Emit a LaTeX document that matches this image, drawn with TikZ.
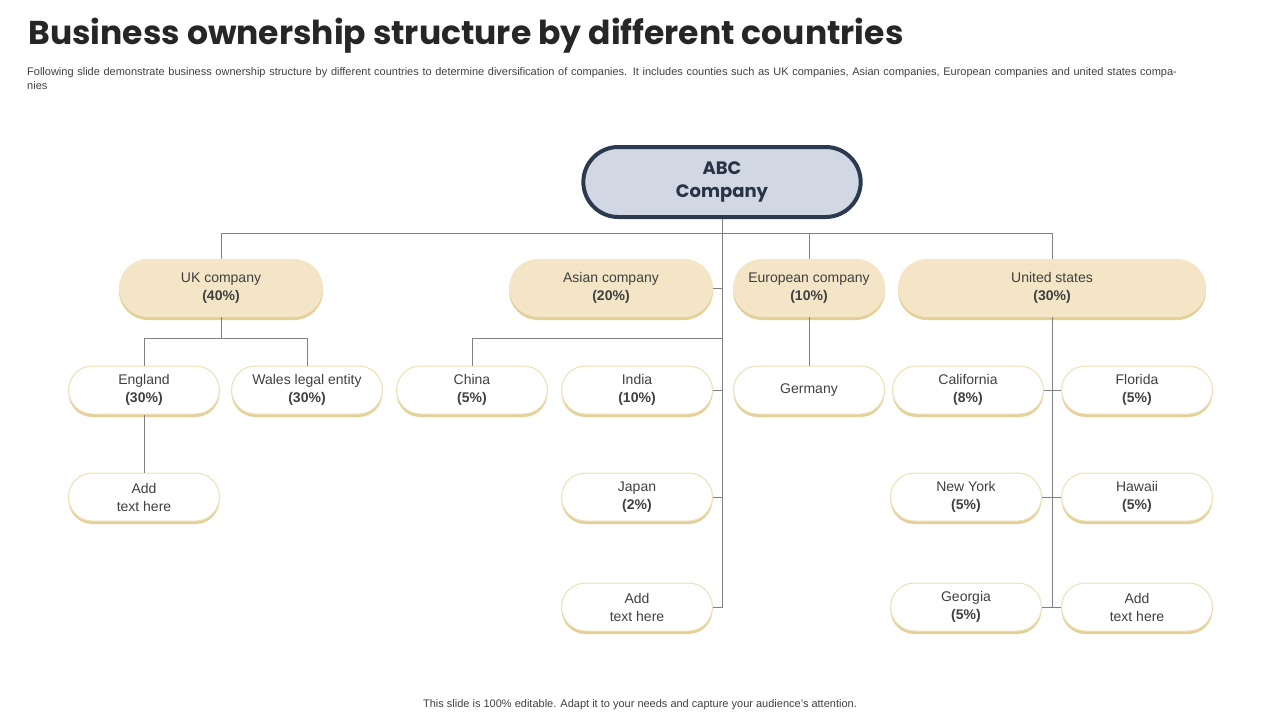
\documentclass[tikz,border=0pt]{standalone}
\usepackage{fontspec}
\setmainfont{Liberation Sans}
\newfontfamily\titlefont{Poppins}
\usetikzlibrary{shapes.misc,shadows}
\definecolor{topfill}{HTML}{D1D7E3}
\definecolor{topline}{HTML}{2B3A4F}
\definecolor{midfill}{HTML}{F3E5C5}
\definecolor{boxshade}{HTML}{E3CF98}
\definecolor{leafline}{HTML}{EEDFB5}
\definecolor{wire}{HTML}{808080}
\definecolor{txt}{HTML}{404040}
\tikzset{
	pill/.style={rounded rectangle,align=center,text=txt,inner sep=2pt,
		font=\fontsize{14}{18}\selectfont,general shadow={fill=boxshade,shadow yshift=-3pt}},
	midbox/.style={pill,fill=midfill,minimum height=58pt},
	leafbox/.style={pill,fill=white,draw=leafline,line width=1pt,minimum height=48pt,minimum width=155pt},
	wire/.style={draw=wire,line width=0.8pt}
}
% #1: name, #2: x, #3: y, #4: text
\newcommand{\leaf}[4]{\node[leafbox] (#1) at (#2,#3) {#4};}
\newcommand{\branch}[5]{\node[midbox,minimum width=#4pt] (#1) at (#2,#3) {#5};}

\begin{document}
\begin{tikzpicture}[x=1pt,y=-1pt]
	\useasboundingbox (0,0) rectangle (1280,720);
	
	% Heading
	\node[anchor=west,font=\titlefont\bfseries\fontsize{33}{38}\selectfont,text=black!85] (title) at (25,36) {Business ownership structure by different countries};
	\node[anchor=north west,align=left,text width=1162pt,inner sep=0pt,text=txt,font=\fontsize{11}{14}\selectfont] (sub) at (27,67)
		{Following slide demonstrate business ownership structure by different countries to determine diversification of companies. It includes counties such as UK companies, Asian companies, European companies and united states companies};
	
	% Top
	\node[rounded rectangle,fill=topfill,draw=topline,line width=4pt,minimum width=284pt,minimum height=70pt,align=center,
		font=\titlefont\bfseries\fontsize{18}{23}\selectfont,text=topline!90!black] (abc) at (722,182) {ABC\\Company};
	
	% Level one
	\branch{uk}{221}{288}{208}{UK company\\\textbf{(40\%)}}
	\branch{asia}{611}{288}{208}{Asian company\\\textbf{(20\%)}}
	\branch{eu}{809}{288}{156}{European company\\\textbf{(10\%)}}
	\branch{us}{1052}{288}{312}{United states\\\textbf{(30\%)}}
	
	% Level two
	\leaf{eng}{144}{390}{England\\\textbf{(30\%)}}
	\leaf{wal}{307}{390}{Wales legal entity\\\textbf{(30\%)}}
	\leaf{chi}{472}{390}{China\\\textbf{(5\%)}}
	\leaf{ind}{637}{390}{India\\\textbf{(10\%)}}
	\leaf{ger}{809}{390}{Germany}
	\leaf{cal}{968}{390}{California\\\textbf{(8\%)}}
	\leaf{flo}{1137}{390}{Florida\\\textbf{(5\%)}}
	
	% Level three and four
	\leaf{addu}{144}{497}{Add\\text here}
	\leaf{jap}{637}{497}{Japan\\\textbf{(2\%)}}
	\leaf{ny}{966}{497}{New York\\\textbf{(5\%)}}
	\leaf{haw}{1137}{497}{Hawaii\\\textbf{(5\%)}}
	\leaf{adda}{637}{607}{Add\\text here}
	\leaf{geo}{966}{607}{Georgia\\\textbf{(5\%)}}
	\leaf{adds}{1137}{607}{Add\\text here}
	
	% Connectors
	\coordinate (ukbar) at (221,338);
	\coordinate (asbar) at (722,338);
	\draw[wire] (abc.south) -- (722,607) -- (adda.east);
	\draw[wire] (uk.north) -- (221,233) -- (1052,233) -- (us.north);
	\draw[wire] (eu.north) -- (809,233);
	\draw[wire] (asia.east) -- (722,288);
	\draw[wire] (ind.east) -- (722,390);
	\draw[wire] (jap.east) -- (722,497);
	\draw[wire] (uk.south) -- (ukbar);
	\draw[wire] (eng.north) -- (144,338) -- (307,338) -- (wal.north);
	\draw[wire] (eng.south) -- (addu.north);
	\draw[wire] (chi.north) -- (472,338) -- (asbar);
	\draw[wire] (eu.south) -- (ger.north);
	\draw[wire] (us.south) -- (1052,607);
	\draw[wire] (cal.east) -- (flo.west);
	\draw[wire] (ny.east) -- (haw.west);
	\draw[wire] (geo.east) -- (adds.west);
	
	% Footer
	\node[text=txt,font=\fontsize{11}{14}\selectfont] (foot) at (640,705) {This slide is 100\% editable. Adapt it to your needs and capture your audience's attention.};
\end{tikzpicture}
\end{document}
